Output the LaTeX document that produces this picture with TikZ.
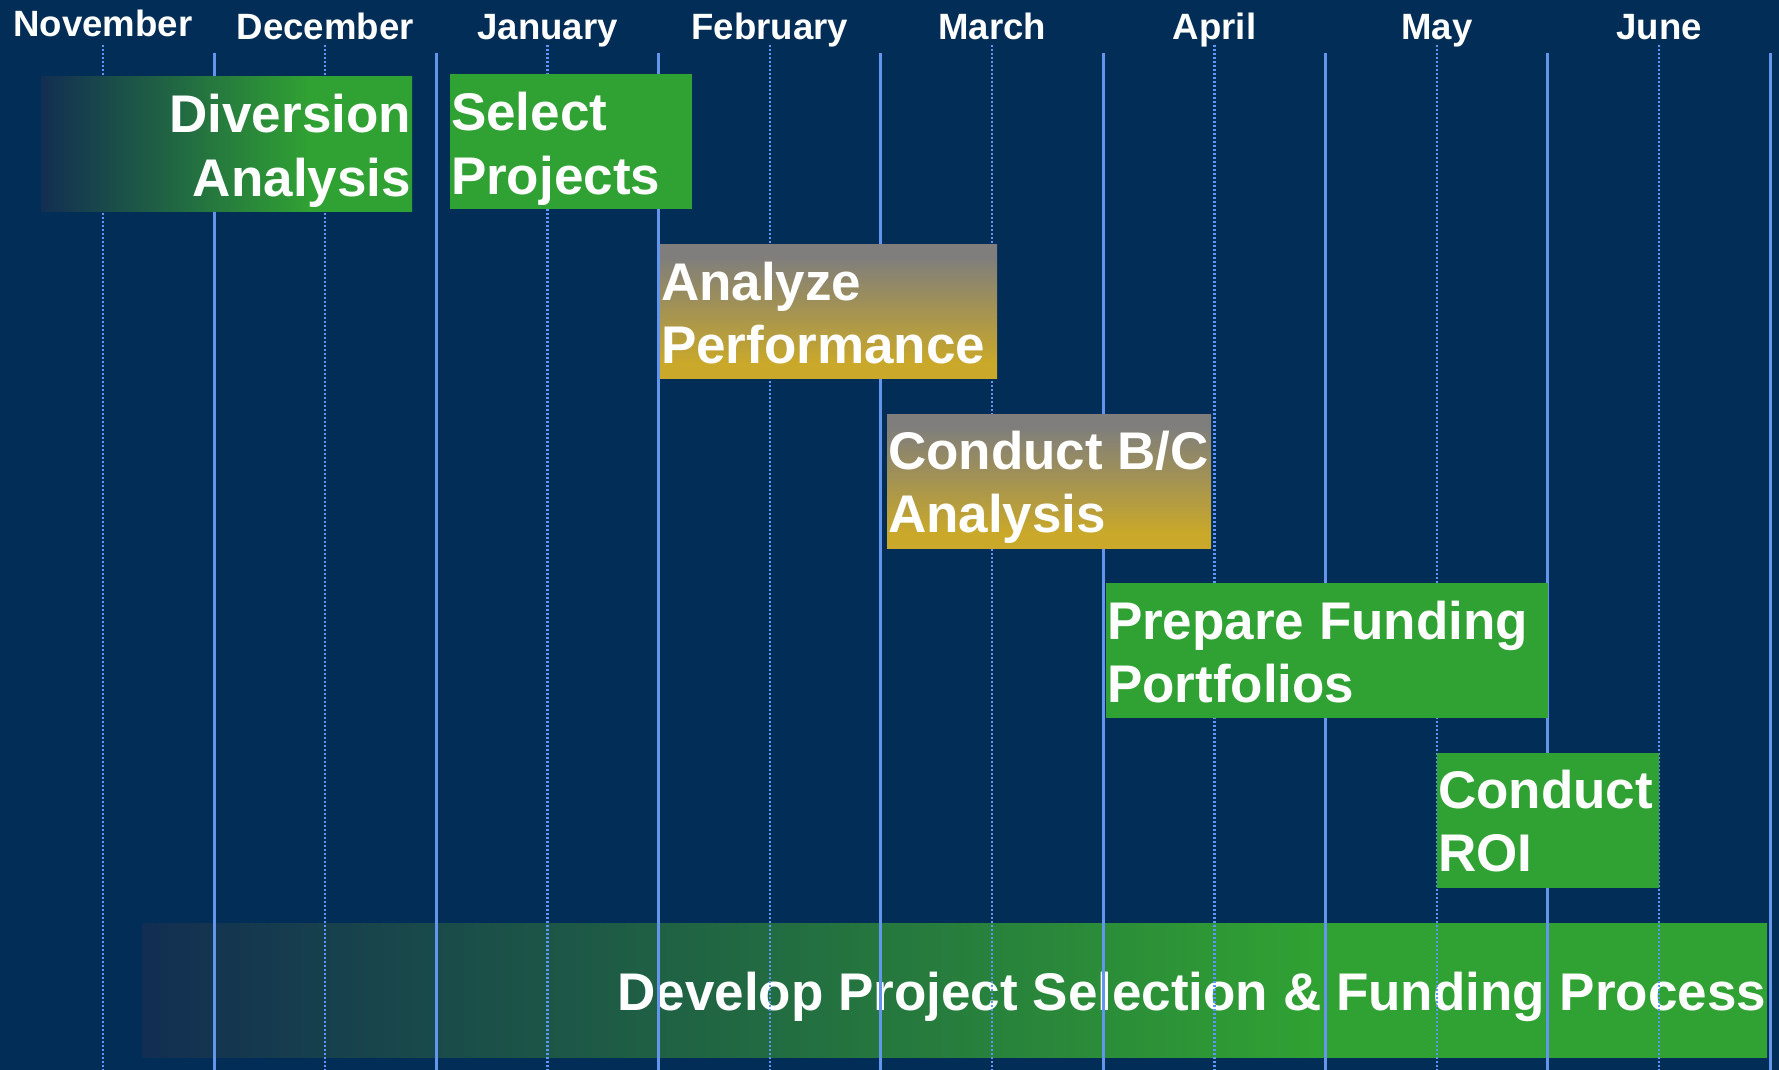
\documentclass[tikz,border=0pt]{standalone}
\usepackage{fontspec}
\setmainfont{Liberation Sans}
\definecolor{bgc}{RGB}{1,45,86}
\definecolor{greenc}{RGB}{48,161,51}
\definecolor{grayc}{RGB}{127,126,124}
\definecolor{goldc}{RGB}{201,168,42}
\definecolor{darkc}{RGB}{18,46,82}
\definecolor{solidc}{RGB}{100,149,237}
\definecolor{dotc}{RGB}{92,150,255}
\pgfdeclareverticalshading{grayGold}{100bp}{color(0bp)=(goldc); color(31bp)=(goldc); color(70bp)=(grayc); color(100bp)=(grayc)}
\pgfdeclarehorizontalshading{navyGreen}{100bp}{color(0bp)=(darkc); color(25bp)=(darkc); color(61bp)=(greenc); color(100bp)=(greenc)}
\tikzset{
  box/.style={rectangle, inner sep=0pt, outer sep=0pt, draw=none, minimum height=67.25pt},
  greenbox/.style={box, fill=greenc},
  goldbox/.style={box, shade, shading=grayGold},
  fadebox/.style={box, shade, shading=navyGreen},
  boxtext/.style={inner sep=0pt, outer sep=0pt, text=white, font=\bfseries\fontsize{26.5pt}{31.7pt}\selectfont},
  month/.style={anchor=base, inner sep=0pt, text=white, font=\bfseries\fontsize{18.3pt}{22pt}\selectfont},
  solidln/.style={draw=solidc, line width=1.5pt},
  dotln/.style={draw=dotc, line width=1.15pt, dash pattern=on 1pt off 1pt},
}
\begin{document}
\begin{tikzpicture}[x=0.5pt,y=-0.5pt]
\useasboundingbox (0,0) rectangle (1779,1070);
\fill[bgc] (0,0) rectangle (1779,1070);
% month labels
\node[month] (mNov) at (103,37) {November};
\node[month] (mDec) at (325.3,40) {December};
\node[month] (mJan) at (547.6,40) {January};
\node[month] (mFeb) at (769.9,40) {February};
\node[month] (mMar) at (992.2,40) {March};
\node[month] (mApr) at (1214.5,40) {April};
\node[month] (mMay) at (1436.8,40) {May};
\node[month] (mJun) at (1659.1,40) {June};
% bottom bar (behind the grid)
\node[fadebox, minimum width=812.25pt] (b7) at (954.75,990.25) {};
\node[boxtext, anchor=base east] (t7) at (1766,1010) {Develop Project Selection \& Funding Process};
% grid
\foreach \i in {0,...,7}{
  \draw[solidln] ({214+222.3*\i},53) -- ({214+222.3*\i},1070);
  \draw[dotln] ({103+222.3*\i},45) -- ({103+222.3*\i},1070);
}
% task boxes
\node[fadebox, minimum width=185.25pt] (b1) at (226.75,144.25) {};
\node[boxtext, anchor=base east] (t1) at (411,133) {\begin{tabular}[t]{@{}r@{}}Diversion\\Analysis\end{tabular}};
\node[greenbox, minimum width=120.75pt] (b2) at (570.75,141.6) {};
\node[boxtext, anchor=base west] (t2) at (451,131) {\begin{tabular}[t]{@{}l@{}}Select\\Projects\end{tabular}};
\node[goldbox, minimum width=168.5pt] (b3) at (828.5,311.35) {};
\node[boxtext, anchor=base west] (t3) at (661,300) {\begin{tabular}[t]{@{}l@{}}Analyze\\Performance\end{tabular}};
\node[goldbox, minimum width=162pt] (b4) at (1049,481.35) {};
\node[boxtext, anchor=base west] (t4) at (888,469) {\begin{tabular}[t]{@{}l@{}}Conduct B/C\\Analysis\end{tabular}};
\node[greenbox, minimum width=220.85pt] (b5) at (1326.85,650.5) {};
\node[boxtext, anchor=base west] (t5) at (1107,639.5) {\begin{tabular}[t]{@{}l@{}}Prepare Funding\\Portfolios\end{tabular}};
\node[greenbox, minimum width=111pt] (b6) at (1548,820.5) {};
\node[boxtext, anchor=base west] (t6) at (1438,808.5) {\begin{tabular}[t]{@{}l@{}}Conduct\\ROI\end{tabular}};
\end{tikzpicture}
\end{document}
